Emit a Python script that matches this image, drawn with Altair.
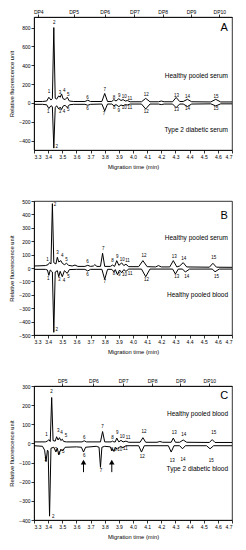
import altair as alt
import pandas as pd

FONT = "Liberation Sans"
X_DOMAIN = [3.3, 4.7]
X_TICKS = [3.3, 3.4, 3.5, 3.6, 3.7, 3.8, 3.9, 4.0, 4.1, 4.2, 4.3, 4.4, 4.5, 4.6, 4.7]
PEAK_IDS = [str(i) for i in range(1, 16)]

# ---------------- Panel A ----------------
a_top_t = [3.30, 3.36, 3.39, 3.405, 3.42, 3.43, 3.44, 3.45, 3.46, 3.475, 3.485, 3.495, 3.505, 3.52, 3.535, 3.55, 3.58,
           3.66, 3.68, 3.70, 3.78, 3.80, 3.82, 3.85, 3.865, 3.88, 3.90, 3.915, 3.93, 3.945, 3.96, 3.98, 4.06, 4.09,
           4.12, 4.18, 4.20, 4.22, 4.28, 4.305, 4.33, 4.355, 4.385, 4.415, 4.55, 4.585, 4.62, 4.70]
a_top_v = [15, 15, 20, 60, 30, 45, 800, 50, 40, 75, 60, 95, 45, 35, 60, 20, 15,
           15, 28, 15, 15, 100, 15, 15, 35, 20, 45, 25, 35, 20, 25, 12, 12, 48,
           12, 12, 20, 12, 12, 58, 15, 15, 38, 12, 10, 38, 10, 10]
a_bot_t = a_top_t
a_bot_v = [-15, -15, -20, -60, -30, -40, -480, -50, -30, -65, -45, -70, -35, -25, -50, -20, -15,
           -15, -25, -15, -12, -85, -12, -12, -30, -18, -40, -22, -30, -18, -22, -12, -12, -65,
           -12, -12, -18, -12, -12, -50, -12, -12, -38, -12, -10, -32, -10, -10]
a_lab_top_t = [3.406, 3.443, 3.483, 3.514, 3.542, 3.679, 3.80, 3.865, 3.902, 3.938, 3.978, 4.093, 4.307, 4.385, 4.587]
a_lab_top_v = [117, 843, 107, 128, 89, 50, 139, 50, 78, 64, 46, 89, 78, 64, 64]
a_lab_bot_t = [3.401, 3.46, 3.483, 3.512, 3.542, 3.679, 3.795, 3.868, 3.90, 3.938, 3.978, 4.093, 4.307, 4.385, 4.587]
a_lab_bot_v = [-93, -473, -100, -100, -75, -64, -117, -57, -85, -57, -57, -93, -75, -64, -64]
a_dp_t = [3.33, 3.58, 3.80, 4.01, 4.21, 4.41, 4.61]
a_dp_lab = ["DP4", "DP5", "DP6", "DP7", "DP8", "DP9", "DP10"]
a_series = ["Healthy pooled serum", "Type 2 diabetic serum"]
a_series_v = [290, -288]
a_domain = [-500, 912]
a_yticks = [-400, -200, 0, 200, 400, 600, 800]

# ---------------- Panel B ----------------
b_top_t = [3.30, 3.38, 3.40, 3.41, 3.42, 3.43, 3.44, 3.455, 3.465, 3.475, 3.49, 3.50, 3.515, 3.53, 3.545, 3.57, 3.59,
           3.61, 3.66, 3.68, 3.70, 3.72, 3.73, 3.745, 3.77, 3.785, 3.80, 3.84, 3.855, 3.87, 3.885, 3.90, 3.92, 3.935,
           3.95, 3.97, 4.04, 4.07, 4.10, 4.16, 4.18, 4.20, 4.26, 4.285, 4.31, 4.33, 4.355, 4.38, 4.54, 4.565, 4.59, 4.70]
b_top_v = [15, 18, 25, 40, 30, 480, 40, 30, 80, 45, 55, 35, 25, 35, 20, 15, 22,
           12, 12, 20, 12, 15, 25, 12, 12, 110, 12, 12, 22, 12, 55, 20, 38, 18,
           28, 10, 10, 55, 10, 8, 18, 8, 8, 55, 8, 15, 40, 8, 6, 35, 6, 5]
b_bot_t = [3.30, 3.38, 3.395, 3.405, 3.415, 3.43, 3.44, 3.45, 3.465, 3.475, 3.485, 3.50, 3.515, 3.535, 3.55, 3.60,
           3.66, 3.68, 3.70, 3.78, 3.80, 3.82, 3.85, 3.865, 3.875, 3.89, 3.905, 3.92, 3.935, 3.95, 3.97, 4.06, 4.09,
           4.12, 4.28, 4.30, 4.32, 4.35, 4.37, 4.40, 4.56, 4.58, 4.61, 4.70]
b_bot_v = [-10, -10, -15, -55, -15, -30, -480, -30, -20, -65, -25, -65, -20, -40, -12, -10,
           -10, -22, -10, -10, -85, -10, -10, -28, -12, -50, -15, -35, -12, -25, -8, -8, -65,
           -8, -8, -45, -8, -8, -30, -8, -8, -28, -8, -8]
b_lab_top_t = [3.396, 3.448, 3.467, 3.50, 3.53, 3.679, 3.789, 3.855, 3.888, 3.924, 3.961, 4.077, 4.291, 4.359, 4.571]
b_lab_top_v = [60, 472, 110, 92, 60, 47, 139, 50, 85, 62, 50, 90, 85, 67, 72]
b_lab_bot_t = [3.401, 3.46, 3.479, 3.512, 3.544, 3.679, 3.80, 3.865, 3.902, 3.94, 3.98, 4.095, 4.31, 4.38, 4.59]
b_lab_bot_v = [-82, -460, -90, -95, -70, -50, -107, -45, -50, -50, -45, -90, -70, -70, -70]
b_series = ["Healthy pooled serum", "Healthy pooled blood"]
b_series_v = [224, -201]
b_domain = [-500, 500]
b_yticks = [-500, -400, -300, -200, -100, 0, 100, 200, 300, 400, 500]

# ---------------- Panel C ----------------
c_top_t = [3.30, 3.38, 3.395, 3.405, 3.415, 3.425, 3.435, 3.45, 3.46, 3.47, 3.48, 3.49, 3.50, 3.51, 3.53, 3.64,
           3.655, 3.67, 3.77, 3.785, 3.80, 3.845, 3.855, 3.865, 3.875, 3.885, 3.90, 3.915, 3.93, 3.95, 3.97, 4.05,
           4.07, 4.09, 4.17, 4.19, 4.21, 4.27, 4.285, 4.30, 4.33, 4.355, 4.38, 4.54, 4.56, 4.58, 4.70]
c_top_v = [8, 8, 12, 20, 10, 240, 15, 12, 35, 18, 30, 15, 22, 10, 8, 8,
           14, 8, 8, 62, 8, 8, 12, 8, 8, 28, 8, 16, 8, 12, 6, 6,
           30, 6, 6, 10, 6, 6, 28, 6, 6, 18, 6, 5, 20, 5, 5]
c_bot_t = [3.30, 3.36, 3.375, 3.385, 3.395, 3.40, 3.41, 3.42, 3.44, 3.455, 3.465, 3.475, 3.49, 3.50, 3.52, 3.60,
           3.635, 3.65, 3.665, 3.74, 3.76, 3.77, 3.78, 3.80, 3.84, 3.85, 3.855, 3.865, 3.875, 3.89, 3.91, 3.93,
           3.95, 4.04, 4.06, 4.08, 4.25, 4.27, 4.29, 4.33, 4.35, 4.37, 4.52, 4.545, 4.57, 4.70]
c_bot_v = [-12, -15, -35, -95, -35, -40, -380, -25, -20, -45, -25, -60, -30, -40, -20, -18,
           -20, -45, -20, -15, -20, -125, -20, -15, -18, -38, -28, -42, -22, -30, -15, -22,
           -12, -12, -45, -12, -12, -45, -12, -12, -28, -12, -12, -28, -12, -12]
c_lab_top_t = [3.389, 3.424, 3.472, 3.495, 3.526, 3.655, 3.785, 3.855, 3.888, 3.924, 3.966, 4.077, 4.291, 4.359, 4.571]
c_lab_top_v = [43, 267, 66, 52, 39, 30, 84, 30, 53, 32, 30, 61, 52, 43, 52]
c_lab_bot_t = [3.382, 3.436, 3.455, 3.476, 3.507, 3.655, 3.773, 3.852, 3.877, 3.907, 3.946, 4.065, 4.277, 4.354, 4.554]
c_lab_bot_v = [-89, -382, -35, -53, -46, -67, -145, -32, -35, -35, -28, -71, -90, -85, -90]
c_dp_t = [3.50, 3.72, 3.93, 4.135, 4.335, 4.54]
c_dp_lab = ["DP5", "DP6", "DP7", "DP8", "DP9", "DP10"]
c_series = ["Healthy pooled blood", "Type 2 diabetic blood"]
c_series_v = [153, -135]
c_domain = [-400, 300]
c_yticks = [-400, -300, -200, -100, 0, 100, 200, 300]
c_arrow_t = [3.65, 3.85]
c_arrow_head_v = [-98, -98]
c_arrow_tail_v = [-150, -150]

SERIES_T = 4.672
LETTER_T = 4.645


def x_enc():
    return alt.X("t:Q", scale=alt.Scale(domain=X_DOMAIN, nice=False, zero=False),
                 axis=alt.Axis(values=X_TICKS, format=".1f", title="Migration time (min)", grid=False))


def y_enc(domain, ticks):
    return alt.Y("v:Q", scale=alt.Scale(domain=domain, nice=False, zero=False),
                 axis=alt.Axis(values=ticks, format="d", title="Relative fluorescence unit", grid=False,
                               titlePadding=4))


def panel(top_t, top_v, bot_t, bot_v, ltt, ltv, lbt, lbv, series, series_v, letter, letter_v,
          domain, ticks, height, dp_t=None, dp_lab=None, arrows=None):
    lines = pd.concat([
        pd.DataFrame({"t": top_t, "v": top_v, "s": "top"}),
        pd.DataFrame({"t": bot_t, "v": bot_v, "s": "bottom"}),
    ])
    labs = pd.concat([
        pd.DataFrame({"t": ltt, "v": ltv, "label": PEAK_IDS}),
        pd.DataFrame({"t": lbt, "v": lbv, "label": PEAK_IDS}),
    ])
    ser = pd.DataFrame({"t": [SERIES_T] * len(series), "v": series_v, "label": series})
    let = pd.DataFrame({"t": [LETTER_T], "v": [letter_v], "label": [letter]})

    layers = [
        alt.Chart(lines).mark_line(color="black", strokeWidth=1, strokeJoin="round").encode(
            x=x_enc(), y=y_enc(domain, ticks), detail="s:N", order="t:Q"),
        alt.Chart(labs).mark_text(font=FONT, fontSize=4.5, color="black", baseline="middle").encode(
            x=x_enc(), y=y_enc(domain, ticks), text="label:N"),
        alt.Chart(ser).mark_text(font=FONT, fontSize=6.5, color="black", align="right", baseline="middle").encode(
            x=x_enc(), y=y_enc(domain, ticks), text="label:N"),
        alt.Chart(let).mark_text(font=FONT, fontSize=11, color="black", align="center", baseline="middle").encode(
            x=x_enc(), y=y_enc(domain, ticks), text="label:N"),
    ]
    if arrows is not None:
        at, ah, atail = arrows
        adf = pd.DataFrame({"t": at, "v": ah, "v2": atail})
        layers.append(alt.Chart(adf).mark_rule(color="black", strokeWidth=1).encode(
            x=x_enc(), y=y_enc(domain, ticks), y2="v2:Q"))
        layers.append(alt.Chart(adf).mark_point(shape="triangle-up", filled=True, color="black", size=30,
                                                opacity=1).encode(
            x=x_enc(), y=y_enc(domain, ticks)))
    inner = alt.layer(*layers)
    if dp_t is None:
        return inner.properties(width=198, height=height)
    expr = "''"
    for tv, name in reversed(list(zip(dp_t, dp_lab))):
        expr = f"abs(datum.value - {tv}) < 0.0005 ? '{name}' : ({expr})"
    dp = pd.DataFrame({"t": dp_t})
    top_axis = alt.Chart(dp).mark_point(opacity=0).encode(
        x=alt.X("t:Q", scale=alt.Scale(domain=X_DOMAIN, nice=False, zero=False),
                axis=alt.Axis(orient="top", values=dp_t, labelExpr=expr, title=None, grid=False,
                              labelFontSize=5, tickSize=3, labelPadding=0)))
    return alt.layer(inner, top_axis).resolve_scale(x="independent").properties(width=198, height=height)


pA = panel(a_top_t, a_top_v, a_bot_t, a_bot_v, a_lab_top_t, a_lab_top_v, a_lab_bot_t, a_lab_bot_v,
           a_series, a_series_v, "A", 790, a_domain, a_yticks, 133, a_dp_t, a_dp_lab)
pB = panel(b_top_t, b_top_v, b_bot_t, b_bot_v, b_lab_top_t, b_lab_top_v, b_lab_bot_t, b_lab_bot_v,
           b_series, b_series_v, "B", 388, b_domain, b_yticks, 134)
pC = panel(c_top_t, c_top_v, c_bot_t, c_bot_v, c_lab_top_t, c_lab_top_v, c_lab_bot_t, c_lab_bot_v,
           c_series, c_series_v, "C", 249, c_domain, c_yticks, 134, c_dp_t, c_dp_lab,
           arrows=(c_arrow_t, c_arrow_head_v, c_arrow_tail_v))

chart = alt.vconcat(pA, pB, pC, spacing=51, bounds="flush").properties(
    padding={"left": 0, "top": 0, "right": 0, "bottom": 0}
).configure_view(stroke="black", strokeWidth=0.8).configure_axis(
    labelFont=FONT, titleFont=FONT, labelFontSize=5, titleFontSize=5.8, titleFontWeight="normal",
    labelColor="black", titleColor="black", domainColor="black", tickColor="black",
    tickSize=3, labelPadding=1, domainWidth=0.8, tickWidth=0.8
).configure_axisY(titlePadding=6)

chart.save("out.html", embed_options={"renderer": "svg", "actions": False})
